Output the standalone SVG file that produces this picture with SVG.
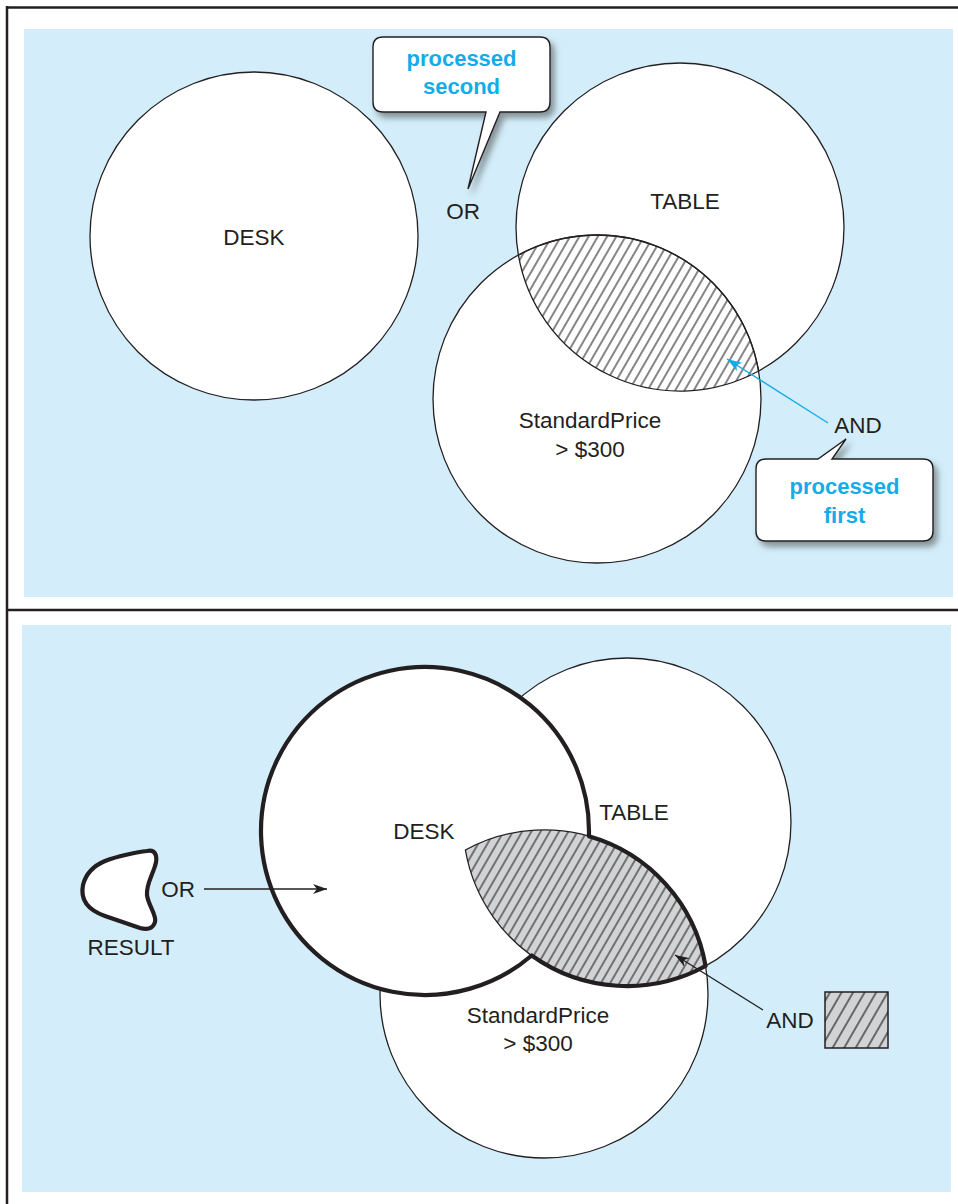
<svg xmlns="http://www.w3.org/2000/svg" width="958" height="1204" viewBox="0 0 958 1204">
<style>
.lbl{font-family:"Liberation Sans",Arial,sans-serif;font-size:22.5px;fill:#231f20;text-anchor:middle}
.call{font-family:"Liberation Sans",Arial,sans-serif;font-size:22px;font-weight:bold;fill:#14ace8;text-anchor:middle}
.circ{fill:#fff;stroke:#231f20;stroke-width:1.3}
.panel{fill:#d3eefa}
.frame{stroke:#231f20;stroke-width:2.5;fill:none}
.bubble{fill:#fff;stroke:#231f20;stroke-width:1.4;filter:url(#shadow)}
</style>
<defs>
<pattern id="hatch" width="8" height="10" patternUnits="userSpaceOnUse" patternTransform="rotate(30)">
<line x1="4" y1="-1" x2="4" y2="11" stroke="#231f20" stroke-width="1.1"/>
</pattern>
<pattern id="hatchWide" width="10" height="10" patternUnits="userSpaceOnUse" patternTransform="rotate(30)">
<line x1="5" y1="-1" x2="5" y2="11" stroke="#231f20" stroke-width="1.2"/>
</pattern>
<filter id="shadow" x="-20%" y="-20%" width="150%" height="150%">
<feDropShadow dx="4" dy="5" stdDeviation="3" flood-color="#444" flood-opacity="0.55"/>
</filter>
<marker id="arrBlue" viewBox="0 0 15 10" refX="15" refY="5" markerWidth="15" markerHeight="10" markerUnits="userSpaceOnUse" orient="auto">
<path d="M0,0 L15,5 L0,10 L4,5 Z" fill="#14ace8"/>
</marker>
<marker id="arrBlack" viewBox="0 0 14 10" refX="14" refY="5" markerWidth="14" markerHeight="10" markerUnits="userSpaceOnUse" orient="auto">
<path d="M0,0 L14,5 L0,10 L4,5 Z" fill="#231f20"/>
</marker>
</defs>
<rect width="958" height="1204" fill="#fff"/>
<g id="frame">
<line class="frame" x1="7" y1="6" x2="7" y2="1204"/>
<line class="frame" x1="6" y1="7.5" x2="958" y2="7.5"/>
<line class="frame" x1="7" y1="610" x2="958" y2="610" stroke-width="2"/>
</g>
<rect id="panel-top" class="panel" x="24" y="29" width="929" height="568"/>
<rect id="panel-bottom" class="panel" x="22" y="625" width="929" height="567"/>

<!-- TOP PANEL -->
<g id="top-desk"><circle class="circ" cx="254" cy="236" r="164"/><text class="lbl" x="254" y="245">DESK</text></g>
<g id="top-table"><circle class="circ" cx="680" cy="227" r="164"/></g>
<g id="top-price"><circle class="circ" cx="597" cy="399" r="164"/></g>
<g id="top-and-region"><path d="M518.4,255.1 A164,164 0 0 1 758.6,371 A164,164 0 0 1 518.4,255.1 Z" fill="url(#hatch)" stroke="#231f20" stroke-width="1.3"/></g>
<g id="top-labels">
<text class="lbl" x="685" y="209">TABLE</text>
<text class="lbl" x="590" y="428">StandardPrice</text>
<text class="lbl" x="590" y="457">&gt; $300</text>
<text class="lbl" x="463" y="219">OR</text>
<text class="lbl" x="858" y="433">AND</text>
</g>
<g id="callout-second">
<path class="bubble" d="M383,37 H540 Q550,37 550,47 V102 Q550,112 540,112 H500 L468,189 L486,112 H383 Q373,112 373,102 V47 Q373,37 383,37 Z"/>
<text class="call" x="461.5" y="66">processed</text>
<text class="call" x="461.5" y="94">second</text>
</g>
<g id="callout-first">
<path class="bubble" d="M766,459 H818 L846,439 L832,459 H923 Q933,459 933,469 V531 Q933,541 923,541 H766 Q756,541 756,531 V469 Q756,459 766,459 Z"/>
<text class="call" x="844.5" y="494">processed</text>
<text class="call" x="844.5" y="523">first</text>
</g>

<!-- BOTTOM PANEL -->
<g id="bottom-table"><circle class="circ" cx="627" cy="822" r="164"/></g>
<g id="bottom-price"><circle class="circ" cx="544" cy="994" r="164"/></g>
<g id="bottom-desk"><circle cx="425" cy="831" r="164" fill="#fff"/></g>
<g id="bottom-and-region">
<path d="M465.4,850 A164,164 0 0 1 705.6,966 A164,164 0 0 1 465.4,850 Z" fill="#d1d3d4"/>
<path d="M465.4,850 A164,164 0 0 1 705.6,966 A164,164 0 0 1 465.4,850 Z" fill="url(#hatch)" stroke="#231f20" stroke-width="1.3"/>
</g>
<g id="bottom-result-outline"><path d="M588.9,836.3 A164,164 0 1 0 531.7,955.5 A164,164 0 0 0 705.6,966 A164,164 0 0 0 588.9,836.3 Z" fill="none" stroke="#231f20" stroke-width="4.2" stroke-linejoin="round"/></g>
<g id="bottom-labels">
<text class="lbl" x="424" y="839">DESK</text>
<text class="lbl" x="634" y="820">TABLE</text>
<text class="lbl" x="538" y="1023">StandardPrice</text>
<text class="lbl" x="538" y="1051">&gt; $300</text>
<text class="lbl" x="178" y="897">OR</text>
<text class="lbl" x="790" y="1028">AND</text>
</g>
<g id="result-shape">
<path d="M147,851 C156,849 158,857 155,866 C152,876 146,885 147,895 C148,905 157,915 155,922 C153,929 147,930 140,928 L105,916 C88,910 80,900 83,885 C86,873 93,866 105,861 C118,856 138,852 147,851 Z" fill="#fff" stroke="#231f20" stroke-width="4.2" stroke-linejoin="round"/>
<text class="lbl" x="131" y="955">RESULT</text>
</g>
<g id="legend-and">
<rect x="825" y="992" width="63" height="56" fill="#d1d3d4"/>
<rect x="825" y="992" width="63" height="56" fill="url(#hatchWide)" stroke="#231f20" stroke-width="1.5"/>
</g>

<g id="connectors">
<line x1="828" y1="423" x2="727" y2="359" stroke="#14ace8" stroke-width="1.4" marker-end="url(#arrBlue)"/>
<line x1="204" y1="889" x2="327" y2="889" stroke="#231f20" stroke-width="1.4" marker-end="url(#arrBlack)"/>
<line x1="763" y1="1010" x2="675" y2="955" stroke="#231f20" stroke-width="1.4" marker-end="url(#arrBlack)"/>
</g>
</svg>
